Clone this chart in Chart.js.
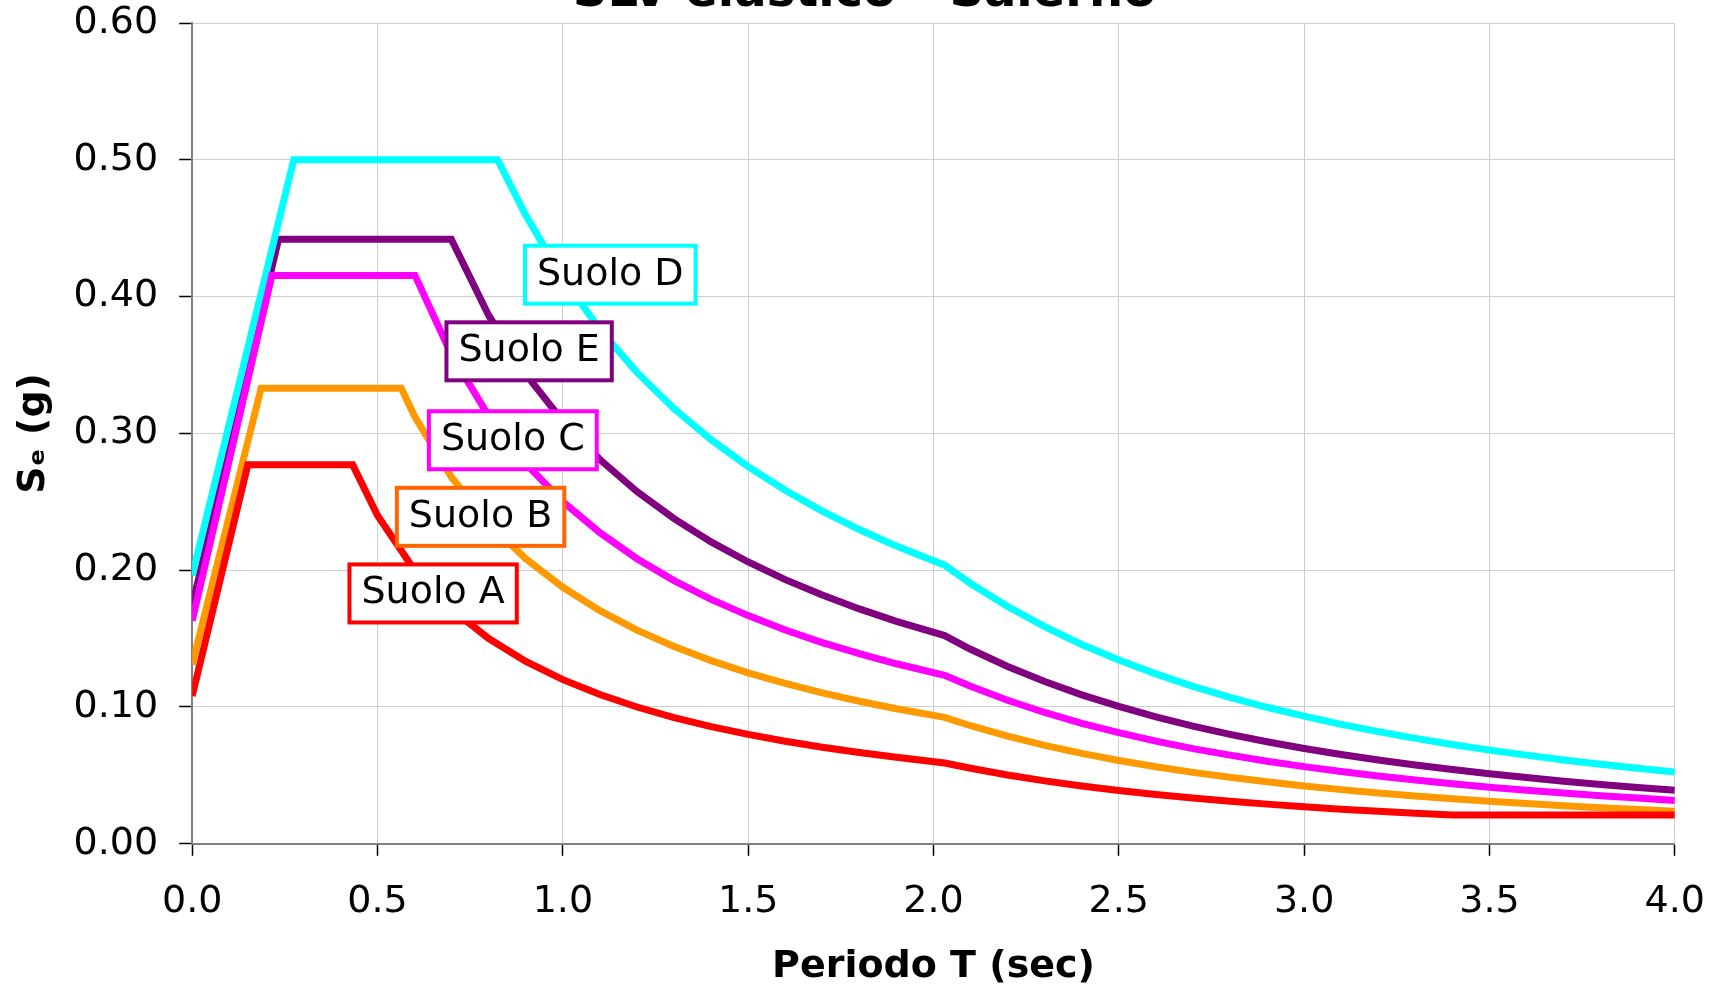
<!DOCTYPE html>
<html lang="it">
<head>
<meta charset="UTF-8">
<title>SLV elastico - Salerno</title>
<script src="https://cdn.jsdelivr.net/npm/chart.js"></script>
<style>
    body { margin: 0; background: #fff; overflow: hidden; }
    .wrap { width: 1729px; height: 990px; overflow: hidden; position: relative; }
    #spettro { position: absolute; left: 0; top: -30px; }
</style>
</head>
<body>
<div class="wrap">
    <canvas id="spettro" width="1729" height="1020"></canvas>
</div>

<script>
// Periodo T (sec) e Se (g), per ogni tipo di suolo
const periodoA = [0, 0.150, 0.433, 0.5, 0.6, 0.7, 0.8, 0.9, 1.0, 1.1, 1.2, 1.3, 1.4, 1.5, 1.6, 1.7, 1.8, 1.9, 2.03,
                  2.1, 2.2, 2.3, 2.4, 2.5, 2.6, 2.7, 2.8, 2.9, 3.0, 3.1, 3.2, 3.3, 3.4, 3.5, 3.6, 3.7, 3.8, 3.9, 4.0];
const suoloA   = [0.108, 0.277, 0.277, 0.2400, 0.2000, 0.1714, 0.1500, 0.1333, 0.1200, 0.1091, 0.1000, 0.0923, 0.0857, 0.0800, 0.0750, 0.0706, 0.0667, 0.0632, 0.0591,
                  0.0552, 0.0503, 0.0460, 0.0423, 0.0390, 0.0360, 0.0334, 0.0311, 0.0290, 0.0271, 0.0253, 0.0238, 0.0224, 0.0211, 0.0210, 0.0210, 0.0210, 0.0210, 0.0210, 0.0210];

const periodoB = [0, 0.186, 0.564, 0.6, 0.7, 0.8, 0.9, 1.0, 1.1, 1.2, 1.3, 1.4, 1.5, 1.6, 1.7, 1.8, 1.9, 2.03,
                  2.1, 2.2, 2.3, 2.4, 2.5, 2.6, 2.7, 2.8, 2.9, 3.0, 3.1, 3.2, 3.3, 3.4, 3.5, 3.6, 3.7, 3.8, 3.9, 4.0];
const suoloB   = [0.131, 0.333, 0.333, 0.3125, 0.2678, 0.2344, 0.2083, 0.1875, 0.1704, 0.1562, 0.1442, 0.1339, 0.1250, 0.1172, 0.1103, 0.1042, 0.0987, 0.0924,
                  0.0863, 0.0787, 0.0720, 0.0661, 0.0609, 0.0563, 0.0522, 0.0486, 0.0453, 0.0423, 0.0396, 0.0372, 0.0350, 0.0329, 0.0311, 0.0294, 0.0278, 0.0264, 0.0250, 0.0238];

const periodoC = [0, 0.215, 0.601, 0.7, 0.8, 0.9, 1.0, 1.1, 1.2, 1.3, 1.4, 1.5, 1.6, 1.7, 1.8, 1.9, 2.03,
                  2.1, 2.2, 2.3, 2.4, 2.5, 2.6, 2.7, 2.8, 2.9, 3.0, 3.1, 3.2, 3.3, 3.4, 3.5, 3.6, 3.7, 3.8, 3.9, 4.0];
const suoloC   = [0.163, 0.4155, 0.4155, 0.3573, 0.3127, 0.2779, 0.2501, 0.2274, 0.2084, 0.1924, 0.1787, 0.1668, 0.1563, 0.1471, 0.1390, 0.1316, 0.1232,
                  0.1151, 0.1049, 0.0960, 0.0881, 0.0812, 0.0751, 0.0696, 0.0648, 0.0604, 0.0564, 0.0528, 0.0496, 0.0466, 0.0439, 0.0414, 0.0392, 0.0371, 0.0352, 0.0334, 0.0317];

const periodoD = [0, 0.274, 0.824, 0.9, 1.0, 1.1, 1.2, 1.3, 1.4, 1.5, 1.6, 1.7, 1.8, 1.9, 2.03,
                  2.1, 2.2, 2.3, 2.4, 2.5, 2.6, 2.7, 2.8, 2.9, 3.0, 3.1, 3.2, 3.3, 3.4, 3.5, 3.6, 3.7, 3.8, 3.9, 4.0];
const suoloD   = [0.196, 0.500, 0.500, 0.4594, 0.4135, 0.3759, 0.3446, 0.3181, 0.2954, 0.2757, 0.2584, 0.2432, 0.2297, 0.2176, 0.2037,
                  0.1903, 0.1734, 0.1587, 0.1457, 0.1343, 0.1242, 0.1151, 0.1071, 0.0998, 0.0933, 0.0873, 0.0820, 0.0771, 0.0726, 0.0685, 0.0648, 0.0613, 0.0581, 0.0552, 0.0525];

const periodoE = [0, 0.233, 0.699, 0.8, 0.9, 1.0, 1.1, 1.2, 1.3, 1.4, 1.5, 1.6, 1.7, 1.8, 1.9, 2.03,
                  2.1, 2.2, 2.3, 2.4, 2.5, 2.6, 2.7, 2.8, 2.9, 3.0, 3.1, 3.2, 3.3, 3.4, 3.5, 3.6, 3.7, 3.8, 3.9, 4.0];
const suoloE   = [0.174, 0.442, 0.442, 0.3862, 0.3433, 0.3090, 0.2809, 0.2575, 0.2377, 0.2207, 0.2060, 0.1931, 0.1818, 0.1717, 0.1626, 0.1522,
                  0.1422, 0.1296, 0.1186, 0.1089, 0.1004, 0.0928, 0.0860, 0.0800, 0.0746, 0.0697, 0.0653, 0.0613, 0.0576, 0.0543, 0.0512, 0.0484, 0.0458, 0.0434, 0.0412, 0.0392];

// Etichette degli assi
const xTickValues = [0, 0.5, 1.0, 1.5, 2.0, 2.5, 3.0, 3.5, 4.0];
const xTickLabels = ['0.0', '0.5', '1.0', '1.5', '2.0', '2.5', '3.0', '3.5', '4.0'];
const yTickValues = [0, 0.1, 0.2, 0.3, 0.4, 0.5, 0.6];
const yTickLabels = ['0.00', '0.10', '0.20', '0.30', '0.40', '0.50', '0.60'];

// Riquadri con il nome del suolo (posizione in coordinate del grafico)
const labelNames  = ['Suolo D', 'Suolo E', 'Suolo C', 'Suolo B', 'Suolo A'];
const labelT      = [1.128, 0.909, 0.865, 0.778, 0.650];
const labelSe     = [0.416, 0.360, 0.295, 0.239, 0.183];
const labelColors = ['#00FFFF', '#800080', '#FF00FF', '#FF6600', '#FF0000'];

function punti(periodi, valori) {
    return periodi.map((t, i) => ({ x: t, y: valori[i] }));
}

function serie(nome, periodi, valori, colore) {
    return {
        label: nome,
        data: punti(periodi, valori),
        borderColor: colore,
        backgroundColor: colore,
        borderWidth: 7,
        pointRadius: 0,
        tension: 0,
        borderCapStyle: 'butt',
        borderJoinStyle: 'miter',
        fill: false
    };
}

// Disegna i riquadri delle etichette sopra le curve
const suoloLabels = {
    id: 'suoloLabels',
    afterDatasetsDraw(chart) {
        const { ctx, scales: { x, y } } = chart;
        ctx.save();
        ctx.font = '38px "DejaVu Sans"';
        ctx.textAlign = 'center';
        ctx.textBaseline = 'middle';
        labelNames.forEach((name, i) => {
            const cx = x.getPixelForValue(labelT[i]);
            const cy = y.getPixelForValue(labelSe[i]);
            const w = ctx.measureText(name).width + 24;
            const h = 58;
            ctx.fillStyle = '#ffffff';
            ctx.fillRect(cx - w / 2, cy - h / 2, w, h);
            ctx.strokeStyle = labelColors[i];
            ctx.lineWidth = 4;
            ctx.strokeRect(cx - w / 2, cy - h / 2, w, h);
            ctx.fillStyle = '#000000';
            ctx.fillText(name, cx, cy);
        });
        ctx.restore();
    }
};

const ctx = document.getElementById('spettro').getContext('2d');
new Chart(ctx, {
    type: 'line',
    data: {
        datasets: [
            serie('Suolo A', periodoA, suoloA, '#FF0000'),
            serie('Suolo B', periodoB, suoloB, '#FF9900'),
            serie('Suolo C', periodoC, suoloC, '#FF00FF'),
            serie('Suolo D', periodoD, suoloD, '#00FFFF'),
            serie('Suolo E', periodoE, suoloE, '#800080')
        ]
    },
    options: {
        responsive: false,
        animation: false,
        devicePixelRatio: 1,
        // stesso margine a sinistra e a destra, così il titolo resta centrato sulla pagina
        layout: { padding: { left: 49, right: 49, top: 0, bottom: 0 } },
        plugins: {
            legend: { display: false },
            tooltip: { enabled: false },
            title: {
                display: true,
                text: 'SLV elastico - Salerno',
                color: '#000',
                font: { family: 'DejaVu Sans', size: 48, weight: 'bold', lineHeight: 1 },
                padding: { top: 0, bottom: 5 }
            }
        },
        scales: {
            x: {
                type: 'linear',
                min: 0,
                max: 4,
                afterBuildTicks: (scale) => { scale.ticks = xTickValues.map(v => ({ value: v })); },
                ticks: {
                    color: '#000',
                    padding: 24,
                    maxRotation: 0,
                    font: { family: 'DejaVu Sans', size: 38 },
                    callback: (value, index) => xTickLabels[index]
                },
                grid: { color: '#cfcfcf', lineWidth: 1, tickLength: 12, tickColor: '#000', tickWidth: 1.5 },
                border: { color: '#808080', width: 2 },
                title: {
                    display: true,
                    text: 'Periodo T (sec)',
                    color: '#000',
                    font: { family: 'DejaVu Sans', size: 38, weight: 'bold' },
                    padding: { top: -5, bottom: 0 }
                }
            },
            y: {
                type: 'linear',
                min: 0,
                max: 0.6,
                afterBuildTicks: (scale) => { scale.ticks = yTickValues.map(v => ({ value: v })); },
                ticks: {
                    color: '#000',
                    padding: 21,
                    font: { family: 'DejaVu Sans', size: 38 },
                    callback: (value, index) => yTickLabels[index]
                },
                grid: { color: '#cfcfcf', lineWidth: 1, tickLength: 13, tickColor: '#000', tickWidth: 1.5 },
                border: { color: '#808080', width: 2 },
                title: {
                    display: true,
                    text: 'Sₑ (g)',
                    color: '#000',
                    font: { family: 'DejaVu Sans', size: 38, weight: 'bold' },
                    // il titolo sta nel margine sinistro
                    padding: { top: -38, bottom: -4 }
                }
            }
        }
    },
    plugins: [suoloLabels]
});
</script>
</body>
</html>
